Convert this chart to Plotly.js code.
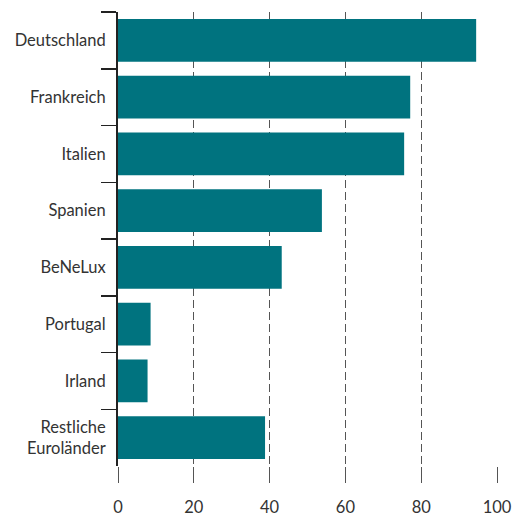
<!DOCTYPE html>
<html>
<head>
<meta charset="utf-8">
<script src="https://cdn.plot.ly/plotly-3.0.1.min.js"></script>
<style>html,body{margin:0;padding:0;background:#fff;}#chart{width:519px;height:517px;}</style>
</head>
<body>
<div id="chart"></div>
<script>
const categories = ["Deutschland", "Frankreich", "Italien", "Spanien", "BeNeLux", "Portugal", "Irland", "Restliche<br>Euroländer"];
const values = [94.5, 77.1, 75.5, 53.8, 43.2, 8.6, 7.8, 38.8];
const xTicks = [0, 20, 40, 60, 80, 100];

const trace = {
  type: "bar",
  orientation: "h",
  y: categories,
  x: values,
  width: 0.75,
  marker: {color: "#00737f", line: {width: 0}},
  hoverinfo: "x+y"
};

const layout = {
  width: 519,
  height: 517,
  margin: {l: 118, r: 22, t: 12, b: 51},
  paper_bgcolor: "#fff",
  plot_bgcolor: "#fff",
  showlegend: false,
  font: {family: "Lato, 'Open Sans', sans-serif", size: 16.5, color: "#333"},
  xaxis: {
    range: [0, 100],
    tickvals: xTicks,
    ticktext: xTicks.map(String),
    showgrid: true,
    gridcolor: "#555",
    gridwidth: 1,
    griddash: "8px,4px",
    zeroline: false,
    showline: false,
    ticks: "outside",
    ticklen: 16,
    tickcolor: "#555",
    tickwidth: 1,
    ticklabelstandoff: 10,
    tickfont: {size: 16.5, color: "#333"},
    fixedrange: true
  },
  yaxis: {
    type: "category",
    autorange: "reversed",
    showline: true,
    linecolor: "#222",
    linewidth: 2,
    ticks: "outside",
    tickson: "boundaries",
    ticklen: 15,
    tickcolor: "#222",
    tickwidth: 1.5,
    ticklabelstandoff: 7,
    showgrid: false,
    zeroline: false,
    tickfont: {size: 16.5, color: "#333"},
    fixedrange: true
  }
};

Plotly.newPlot("chart", [trace], layout, {displayModeBar: false, staticPlot: true});
</script>
</body>
</html>
